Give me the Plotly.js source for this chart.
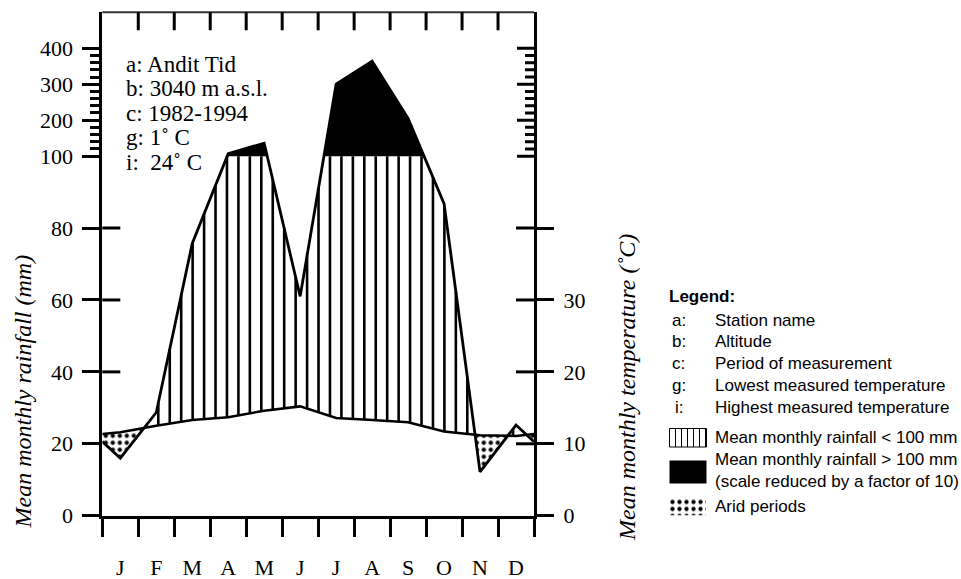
<!DOCTYPE html>
<html><head><meta charset="utf-8">
<script src="https://cdn.plot.ly/plotly-3.0.1.min.js"></script>
<style>html,body{margin:0;padding:0;background:#fff}#chart{width:961px;height:579px}</style>
</head><body><div id="chart"></div>
<script>
// ---- data ----
const months = ['J','F','M','A','M','J','J','A','S','O','N','D'];
const rainfallMm = [16, 28.7, 75.7, 107, 136, 61, 300, 364, 205, 86.8, 12.2, 25.2];
const temperatureC = [11.6, 12.5, 13.3, 13.7, 14.6, 15.2, 13.6, 13.3, 13.0, 11.7, 11.2, 11.1];
const rainTickMm = [0, 20, 40, 60, 80, 100, 200, 300, 400];
const rainMinorMm = [120,140,160,180,220,240,260,280,320,340,360,380];
const tempTicks = [0, 10, 20, 30, 40];
const tempTickText = ['0', '10', '20', '30', ''];
const stationInfo = ['a: Andit Tid', 'b: 3040 m a.s.l.', 'c: 1982-1994', 'g: 1\u02DA C', 'i:\u00A0 24\u02DA C'];
const legendKeys = ['a:', 'b:', 'c:', 'g:', 'i:'];
const legendDesc = ['Station name', 'Altitude', 'Period of measurement', 'Lowest measured temperature', 'Highest measured temperature'];

// ---- geometry ----
const W = 961, H = 579;
const L = 102.3, R = 534, T = 12.3, B = 515.7;
const xd = [L / W, R / W], yd = [1 - B / H, 1 - T / H];
const PX = x => x / W, PY = y => 1 - y / H;
const serif = 'Liberation Serif, Times New Roman, serif';
const sans = 'Liberation Sans, Arial, sans-serif';

function toDisp(mm) { return mm <= 100 ? mm : 100 + (mm - 100) / 10; }
const rainD = rainfallMm.map(toDisp);
const tempD = temperatureC.map(t => 2 * t);
const vx = [0], vr = [(rainD[11] + rainD[0]) / 2], vt = [(tempD[11] + tempD[0]) / 2];
for (let i = 0; i < 12; i++) { vx.push(i + 0.5); vr.push(rainD[i]); vt.push(tempD[i]); }
vx.push(12); vr.push(vr[0]); vt.push(vt[0]);

// refined grid including crossings
const gx = [], gr = [], gt = [];
for (let k = 0; k < vx.length; k++) {
  gx.push(vx[k]); gr.push(vr[k]); gt.push(vt[k]);
  if (k < vx.length - 1) {
    const c = [];
    const d1 = vr[k] - vt[k], d2 = vr[k + 1] - vt[k + 1];
    if (d1 * d2 < 0) c.push(d1 / (d1 - d2));
    const e1 = vr[k] - 100, e2 = vr[k + 1] - 100;
    if (e1 * e2 < 0) c.push(e1 / (e1 - e2));
    c.sort((a, b) => a - b).forEach(f => {
      gx.push(vx[k] + f * (vx[k + 1] - vx[k]));
      gr.push(vr[k] + f * (vr[k + 1] - vr[k]));
      gt.push(vt[k] + f * (vt[k + 1] - vt[k]));
    });
  }
}
function interp(xs, ys, x) {
  for (let k = 0; k < xs.length - 1; k++) {
    if (x >= xs[k] && x <= xs[k + 1]) { const f = (x - xs[k]) / (xs[k + 1] - xs[k]); return ys[k] + f * (ys[k + 1] - ys[k]); }
  }
  return null;
}
// hatch lines
const hx = [], hy = [];
const hStep = 0.3181, hOff = 0.2846;
for (let x = hOff; x < 12; x += hStep) {
  const top = Math.min(interp(vx, vr, x), 100), bot = interp(vx, vt, x);
  if (top > bot + 0.3) { hx.push(x, x, null); hy.push(bot, top, null); }
}
const dotPattern = { shape: '.', size: 7, solidity: 0.3, fgcolor: 'black', bgcolor: 'white' };

const traces = [
  { x: gx, y: gx.map(() => 100), mode: 'lines', line: { width: 0 }, hoverinfo: 'skip', showlegend: false },
  { x: gx, y: gr.map(v => Math.max(v, 100)), mode: 'lines', line: { width: 0 }, fill: 'tonexty', fillcolor: 'black', hoverinfo: 'skip', showlegend: false },
  { x: gx, y: gr.map((v, i) => Math.min(v, gt[i])), mode: 'lines', line: { width: 0 }, hoverinfo: 'skip', showlegend: false },
  { x: gx, y: gt, mode: 'lines', line: { width: 0 }, fill: 'tonexty', fillcolor: 'white', fillpattern: dotPattern, hoverinfo: 'skip', showlegend: false },
  { x: hx, y: hy, mode: 'lines', line: { color: 'black', width: 2.6 }, hoverinfo: 'skip', showlegend: false },
  { x: vx, y: vr, mode: 'lines', line: { color: 'black', width: 2.8 }, showlegend: false },
  { x: vx, y: [vt[0] / 2].concat(temperatureC, [vt[0] / 2]), yaxis: 'y2', mode: 'lines', line: { color: 'black', width: 2.5 }, showlegend: false },
  // legend swatch (arid)
  { x: [0, 1, 1, 0, 0], y: [0, 0, 1, 1, 0], xaxis: 'x3', yaxis: 'y3', mode: 'lines', line: { width: 0 }, fill: 'toself', fillcolor: 'white',
    fillpattern: dotPattern, hoverinfo: 'skip', showlegend: false }
];

const shapes = [];
const tick = (o) => Object.assign({ type: 'line', line: { color: 'black', width: 3 }, layer: 'above' }, o);
// top frame
shapes.push({ type: 'line', xref: 'paper', yref: 'paper', x0: xd[0], x1: xd[1], y0: yd[1], y1: yd[1], line: { color: '#333', width: 2 } });
// top month ticks (inward)
for (let k = 1; k < 12; k++) shapes.push(tick({ xref: 'x', x0: k, x1: k, yref: 'paper', ysizemode: 'pixel', yanchor: yd[1], y0: 0, y1: -18 }));
// left inward ticks
[40, 60, 80].forEach(v => shapes.push(tick({ xref: 'paper', xsizemode: 'pixel', xanchor: xd[0], x0: 0, x1: 18, yref: 'y', y0: v, y1: v })));
// right inward ticks
tempTicks.filter(v => v > 0).forEach(v => shapes.push(tick({ xref: 'paper', xsizemode: 'pixel', xanchor: xd[1], x0: 0, x1: -18, yref: 'y2', y0: v, y1: v })));
rainTickMm.filter(v => v >= 100).forEach(v => shapes.push(tick({ xref: 'paper', xsizemode: 'pixel', xanchor: xd[1], x0: 0, x1: -17, yref: 'y', y0: toDisp(v), y1: toDisp(v) })));
rainMinorMm.forEach(v => shapes.push(tick({ xref: 'paper', xsizemode: 'pixel', xanchor: xd[1], x0: 0, x1: -9, yref: 'y', y0: toDisp(v), y1: toDisp(v) })));
// legend swatches: hatch and black
shapes.push({ type: 'rect', xref: 'paper', yref: 'paper', x0: PX(669.5), x1: PX(706.5), y0: PY(447), y1: PY(428.5), line: { color: 'black', width: 1 }, fillcolor: 'white' });
for (let x = 675.5; x < 706; x += 6) shapes.push({ type: 'line', xref: 'paper', yref: 'paper', x0: PX(x), x1: PX(x), y0: PY(447), y1: PY(428.5), line: { color: 'black', width: 1 } });
shapes.push({ type: 'rect', xref: 'paper', yref: 'paper', x0: PX(669.5), x1: PX(706.5), y0: PY(483.5), y1: PY(460.5), line: { width: 0 }, fillcolor: 'black' });

const annotations = [];
const ann = (o) => Object.assign({ xref: 'paper', yref: 'paper', showarrow: false, xanchor: 'left', yanchor: 'middle' }, o);
stationInfo.forEach((s, i) => annotations.push(ann({ x: PX(124), y: PY(64 + i * 24.6), text: s, font: { family: serif, size: 23, color: 'black' } })));
annotations.push(ann({ x: PX(22), y: PY(391.5), xanchor: 'center', textangle: -90, text: 'Mean monthly rainfall (mm)', font: { family: serif, size: 24, color: 'black', style: 'italic' } }));
annotations.push(ann({ x: PX(627), y: PY(388), xanchor: 'center', textangle: -90, text: 'Mean monthly temperature (\u02DAC)', font: { family: serif, size: 24, color: 'black', style: 'italic' } }));
annotations.push(ann({ x: PX(667), y: PY(296), text: '<b>Legend:</b>', font: { family: sans, size: 17, color: 'black' } }));
legendKeys.forEach((k, i) => {
  const y = PY(320 + i * 21.9);
  annotations.push(ann({ x: PX(k === 'i:' ? 673 : 669.5), y: y, text: k, font: { family: sans, size: 17, color: 'black' } }));
  annotations.push(ann({ x: PX(712.5), y: y, text: legendDesc[i], font: { family: sans, size: 17, color: 'black' } }));
});
[['Mean monthly rainfall < 100 mm', 437.3], ['Mean monthly rainfall > 100 mm', 459], ['(scale reduced by a factor of 10)', 481.5], ['Arid periods', 506.7]].forEach(([t, y]) =>
  annotations.push(ann({ x: PX(712.5), y: PY(y), text: t, font: { family: sans, size: 17, color: 'black' } })));

const layout = {
  width: W, height: H, margin: { l: 0, r: 0, t: 0, b: 0 }, paper_bgcolor: 'white', plot_bgcolor: 'rgba(0,0,0,0)',
  showlegend: false,
  xaxis: { domain: xd, range: [0, 12], showline: true, linewidth: 3, linecolor: 'black', showgrid: false, zeroline: false,
    tickmode: 'array', tickvals: months.map((m, i) => i + 0.5), ticktext: months, ticks: '', ticklabelstandoff: 30,
    tickfont: { family: serif, size: 22, color: 'black' }, automargin: false,
    minor: { tickmode: 'array', tickvals: [0,1,2,3,4,5,6,7,8,9,10,11,12], ticks: 'outside', ticklen: 18, tickwidth: 3, tickcolor: 'black', showgrid: false } },
  yaxis: { domain: yd, range: [0, 140], showline: true, linewidth: 3, linecolor: 'black', showgrid: false, zeroline: false,
    tickmode: 'array', tickvals: rainTickMm.map(toDisp), ticktext: rainTickMm.map(String), ticks: 'outside', ticklen: 17, tickwidth: 3, tickcolor: 'black',
    tickfont: { family: serif, size: 22, color: 'black' }, automargin: false, ticklabelstandoff: 5,
    minor: { tickmode: 'array', tickvals: rainMinorMm.map(toDisp), ticks: 'outside', ticklen: 9, tickwidth: 3, tickcolor: 'black', showgrid: false } },
  yaxis2: { overlaying: 'y', side: 'right', anchor: 'x', range: [0, 70], showline: true, linewidth: 3, linecolor: 'black', showgrid: false, zeroline: false,
    tickmode: 'array', tickvals: tempTicks, ticktext: tempTickText, ticks: 'outside', ticklen: 17, tickwidth: 3, tickcolor: 'black',
    tickfont: { family: serif, size: 22, color: 'black' }, automargin: false, ticklabelstandoff: 5 },
  xaxis3: { domain: [PX(669), PX(706)], range: [0, 1], visible: false, anchor: 'y3', fixedrange: true },
  yaxis3: { domain: [PY(515.5), PY(498.5)], range: [0, 1], visible: false, anchor: 'x3', fixedrange: true },
  shapes: shapes, annotations: annotations
};
Plotly.newPlot('chart', traces, layout, { displayModeBar: false, staticPlot: true });
</script></body></html>
